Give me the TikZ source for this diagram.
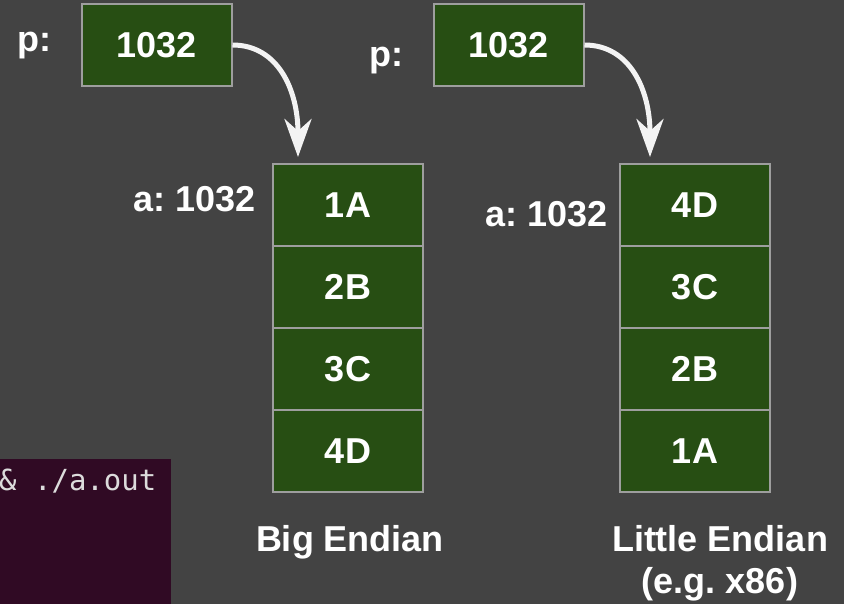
\documentclass[tikz,border=0pt]{standalone}
\usepackage{fontspec}
\setmainfont{Liberation Sans}
\newfontfamily\termfont{DejaVu Sans Mono}
\usetikzlibrary{arrows.meta}
\frenchspacing
\definecolor{bgc}{HTML}{434343}
\definecolor{cellg}{HTML}{274E13}
\definecolor{cellb}{HTML}{9E9E9E}
\definecolor{termbg}{HTML}{300A24}
\definecolor{termfg}{HTML}{DCDCDC}
\definecolor{arrc}{HTML}{F3F3F3}
\tikzset{
  cellbox/.style={draw=cellb, line width=2pt, fill=cellg, minimum width=150pt, minimum height=82pt, inner sep=0pt, text=white, font=\fontsize{36}{42}\selectfont\bfseries},
  lbl/.style={anchor=base, text=white, inner sep=0pt, font=\fontsize{36}{42}\selectfont\bfseries\frenchspacing},
  ptr/.style={draw=arrc, line width=5pt, -{Stealth[length=38pt, width=27pt, inset=12pt]}}
}
\begin{document}
\begin{tikzpicture}[x=1pt, y=-1pt]
\useasboundingbox (0,0) rectangle (844,604);
\fill[bgc] (0,0) rectangle (844,604);
% terminal fragment
\fill[termbg] (0,459) rectangle (171,604);
\node[anchor=base west, inner sep=0pt, text=termfg, font=\fontsize{29}{32}\selectfont\termfont] (term) at (-1,490) {\& ./a.out};
% pointer boxes
\node[cellbox] (pL) at (156.5,45) {1032};
\node[cellbox] (pR) at (508.5,45) {1032};
\node[lbl] (pLl) at (34,52) {p:};
\node[lbl] (pRl) at (386,67) {p:};
% big endian column
\node[cellbox] (L1) at (348,205) {1A};
\node[cellbox] (L2) at (348,287) {2B};
\node[cellbox] (L3) at (348,369) {3C};
\node[cellbox] (L4) at (348,451) {4D};
% little endian column
\node[cellbox] (R1) at (695,205) {4D};
\node[cellbox] (R2) at (695,287) {3C};
\node[cellbox] (R3) at (695,369) {2B};
\node[cellbox] (R4) at (695,451) {1A};
% labels
\node[lbl] (aL) at (195,212) {a: 1032};
\node[lbl] (aR) at (547,227) {a: 1032};
\node[lbl] (bigE) at (350,551) {Big Endian};
\node[lbl] (litE) at (720,551) {Little Endian};
\node[lbl] (litE2) at (720,593) {(e.g. x86)};
% arrows
\coordinate (tL) at (298,157);
\coordinate (tR) at (650,157);
\draw[ptr] (pL.east) .. controls (278,45) and (298,90) .. (tL);
\draw[ptr] (pR.east) .. controls (630,45) and (650,90) .. (tR);
\end{tikzpicture}
\end{document}
